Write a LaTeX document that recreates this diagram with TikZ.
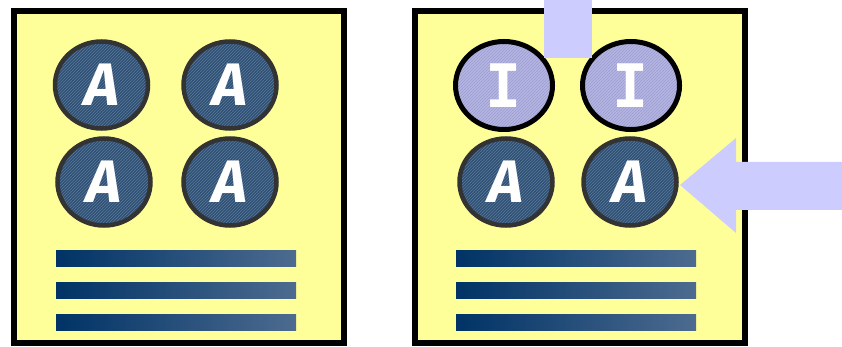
\documentclass[tikz,border=0pt]{standalone}
\usepackage{fontspec}
\setmainfont{Fira Sans}
\newfontfamily\monoI{DejaVu Sans Mono}
\usetikzlibrary{shapes.geometric,patterns}
\definecolor{paper}{HTML}{FFFF99}
\definecolor{lav}{HTML}{CCCCFF}
\definecolor{ballA}{HTML}{2F5177}
\definecolor{ballI}{HTML}{B4B4E6}
\definecolor{barL}{HTML}{003366}
\definecolor{barR}{HTML}{4D6B8F}
\tikzset{
  panel/.style={draw=black,line width=6pt,fill=paper,minimum width=330pt,minimum height=332pt,inner sep=0pt},
  ballA/.style={ellipse,draw=black!80,line width=4.5pt,minimum width=93pt,minimum height=87pt,inner sep=0pt,
    text=white,font=\fontsize{60}{60}\selectfont\bfseries\itshape,
    preaction={fill=ballA},
    preaction={pattern=north east lines,pattern color=white!22!ballA}},
  ballI/.style={ellipse,draw=black,line width=5pt,minimum width=97pt,minimum height=88pt,inner sep=0pt,
    text=white,font=\fontsize{60}{60}\selectfont\monoI\bfseries,
    preaction={fill=ballI},
    preaction={pattern=north east lines,pattern color=black!12!ballI}},
  bar/.style={left color=barL,right color=barR,minimum width=240pt,minimum height=16pt,inner sep=0pt},
  lavfill/.style={fill=lav,draw=none},
}
\begin{document}
\begin{tikzpicture}[x=1pt,y=-1pt]
\useasboundingbox (0,0) rectangle (842,347);
% panels
\node[panel] (p1) at (179,177) {};
\node[panel] (p2) at (579.5,177) {};
% left panel balls
\node[ballA] (a1) at (101.5,85) {A};
\node[ballA] (a2) at (230,85) {A};
\node[ballA] (a3) at (104,182) {A};
\node[ballA] (a4) at (230,182) {A};
% right panel balls
\node[ballI] (i1) at (504,85.5) {I};
\node[ballI] (i2) at (631,85.5) {I};
\node[ballA] (a5) at (506,182) {A};
\node[ballA] (a6) at (630,182) {A};
% bars
\node[bar] (b1) at (176,258) {};
\node[bar] (b2) at (176,290) {};
\node[bar] (b3) at (176,322) {};
\node[bar] (b4) at (576,258) {};
\node[bar] (b5) at (576,290) {};
\node[bar] (b6) at (576,322) {};
% top lavender block
\node[lavfill,minimum width=48pt,minimum height=58pt,inner sep=0pt] (top) at (568,29) {};
% arrow
\fill[lav] (842,162) -- (736,162) -- (736,138) -- (680,185) -- (736,233) -- (736,210) -- (842,210) -- cycle;
\coordinate (tip) at (680,185);
\end{tikzpicture}
\end{document}
